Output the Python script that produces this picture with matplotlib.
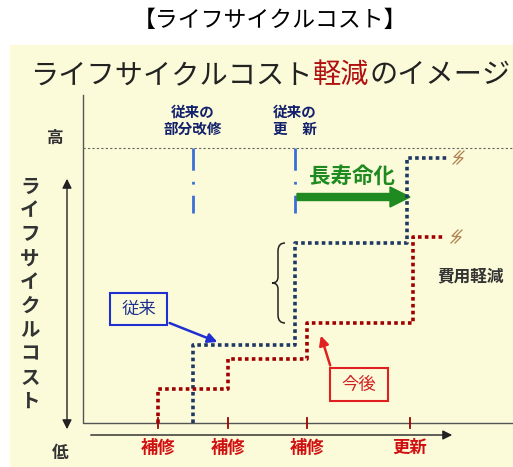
import matplotlib
matplotlib.use("Agg")
import matplotlib.pyplot as plt
from matplotlib.patches import Rectangle, FancyArrow, PathPatch
from matplotlib.path import Path

plt.rcParams['font.family'] = ['Noto Sans CJK JP', 'DejaVu Sans']

# step lines (x of each cost jump, cost level after the jump; y grows downward)
base_y = 423
old_x = [193, 295, 407]
old_level = [345, 243, 158]
old_end = 447
new_x = [158, 228, 307, 413]
new_level = [389, 359, 323, 237]
new_end = 445

work_x = [158, 228, 307, 410]
work_labels = ["補修", "補修", "補修", "更新"]
old_event_x = [193, 295]
old_event_labels = ["従来の\n部分改修", "従来の\n更　新"]
axis_title = "ライフサイクルコスト"
subtitle_parts = [("ライフサイクルコスト", "#222222"), ("軽減", "#B01010"), ("のイメージ", "#222222")]


def step_path(xs, levels, end):
    px, py = [], []
    prev = base_y
    for x, lv in zip(xs, levels):
        px += [x, x]
        py += [prev, lv]
        prev = lv
    px.append(end)
    py.append(prev)
    return px, py


fig = plt.figure(figsize=(5.13, 4.67), dpi=100)
ax = fig.add_axes([0, 0, 1, 1])
ax.set_xlim(0, 513)
ax.set_ylim(467, 0)
ax.axis("off")

# panel
ax.add_patch(Rectangle((10, 45), 503, 422, color="#FBFBDA", zorder=0))

ax.text(270, 20, "【ライフサイクルコスト】", ha="center", va="center", fontsize=16.5)

# subtitle, pieces placed one after another
renderer = fig.canvas.get_renderer()
x0 = 30
for s, c in subtitle_parts:
    t = ax.text(x0, 75, s, ha="left", va="center", fontsize=20.3, color=c)
    bb = t.get_window_extent(renderer=renderer)
    x0 += bb.width * 513 / fig.bbox.width

# frame
ax.plot([83, 83, 513], [95, base_y, base_y], color="#555555", lw=1)
ax.plot([83, 513], [148, 148], color="#666666", lw=0.8, ls=(0, (2, 2)))
ax.annotate("", xy=(455, 435), xytext=(88, 435),
            arrowprops=dict(arrowstyle="-|>", color="#222222", lw=1, mutation_scale=14))
ax.annotate("", xy=(67, 176), xytext=(67, 432),
            arrowprops=dict(arrowstyle="<|-|>", color="#222222", lw=1, mutation_scale=14))
ax.text(55, 138, "高", ha="center", va="center", fontsize=12, fontweight="bold", color="#333333")
ax.text(60, 453, "低", ha="center", va="center", fontsize=12, fontweight="bold", color="#333333")
for i, ch in enumerate(axis_title):
    ax.text(30, 187 + i * 23.9, ch, ha="center", va="center", fontsize=14,
            fontweight="bold", color="#333333")

# conventional events
for x, lab in zip(old_event_x, old_event_labels):
    ax.text(x, 120, lab, ha="center", va="center", fontsize=10.5, color="#13206B",
            linespacing=1.1, fontweight="bold")
    ax.plot([x, x], [148, 213], color="#3B6FD8", lw=2, ls=(0, (8, 4, 1, 4)))

# green arrow
ax.add_patch(FancyArrow(297, 197, 113, 0, width=7, head_width=20, head_length=20,
                        length_includes_head=True, color="#1F8A1F", zorder=3))
ax.text(352, 176, "長寿命化", ha="center", va="center", fontsize=15.5,
        fontweight="bold", color="#1F8A1F")

# step lines
bx, by = step_path(old_x, old_level, old_end)
ax.plot(bx, by, color="#1F3864", lw=2.6, ls=(0, (1, 0.9)), zorder=4)
rx, ry = step_path(new_x, new_level, new_end)
ax.plot(rx, ry, color="#A00000", lw=2.6, ls=(0, (1, 0.9)), zorder=4)

# break marks
for (x, y) in [(old_end + 8, old_level[-1]), (new_end + 8, new_level[-1])]:
    for dx in (0, 4):
        ax.plot([x + dx - 2, x + dx + 4, x + dx - 1, x + dx + 5],
                [y + 6, y, y - 1, y - 7], color="#B08050", lw=0.9)

# ticks and labels
for x, lab in zip(work_x, work_labels):
    ax.plot([x, x], [base_y - 5, base_y + 5], color="#A00000", lw=1.3)
    ax.text(x, 448, lab, ha="center", va="center", fontsize=12.5,
            fontweight="bold", color="#D01010")

# brace
bx0, top, bot = 285, old_level[1], new_level[2]
mid = (top + bot) / 2
verts = [(bx0, top), (bx0 - 7, top), (bx0 - 7, top + 8), (bx0 - 7, mid - 6),
         (bx0 - 7, mid), (bx0 - 13, mid), (bx0 - 7, mid), (bx0 - 7, mid + 6),
         (bx0 - 7, bot - 8), (bx0 - 7, bot), (bx0, bot)]
codes = [Path.MOVETO, Path.CURVE3, Path.CURVE3, Path.LINETO, Path.CURVE3, Path.CURVE3,
         Path.CURVE3, Path.CURVE3, Path.LINETO, Path.CURVE3, Path.CURVE3]
ax.add_patch(PathPatch(Path(verts, codes), fill=False, lw=1.1, color="#222222"))
ax.text(471, 276, "費用軽減", ha="center", va="center", fontsize=12,
        fontweight="bold", color="#333333")

# callouts
ax.add_patch(Rectangle((110, 293), 57, 32, fill=False, ec="#1F2FD0", lw=1.5, zorder=5))
ax.text(138.5, 309, "従来", ha="center", va="center", fontsize=12.5, color="#1F2F8F")
ax.annotate("", xy=(220, 343), xytext=(167, 322),
            arrowprops=dict(arrowstyle="-|>", color="#1F2FD0", lw=1.8, mutation_scale=14))
ax.add_patch(Rectangle((330, 368), 58, 33, fill=False, ec="#E02020", lw=1.5, zorder=5))
ax.text(359, 384.5, "今後", ha="center", va="center", fontsize=12.5, color="#D02020")
ax.annotate("", xy=(320, 333), xytext=(331, 368),
            arrowprops=dict(arrowstyle="-|>", color="#E02020", lw=1.8, mutation_scale=14))

fig.savefig("out.png", dpi=100)
